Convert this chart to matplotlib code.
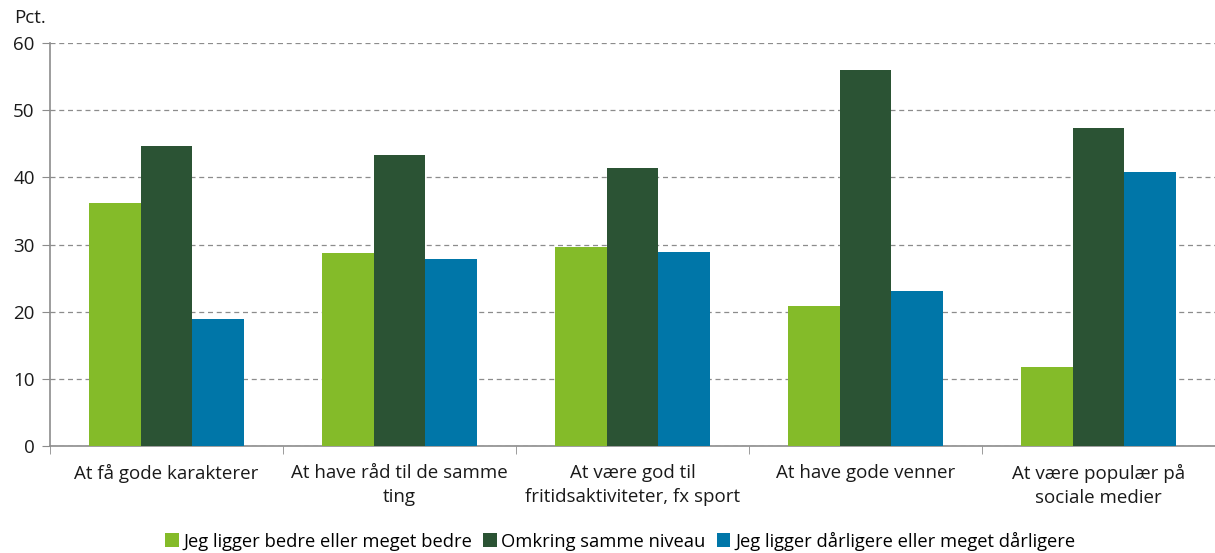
import numpy as np
import matplotlib.pyplot as plt
from matplotlib.ticker import FixedLocator

plt.rcParams['font.family'] = ['Open Sans', 'DejaVu Sans']

categories = ['At få gode karakterer', 'At have råd til de samme\nting',
              'At være god til\nfritidsaktiviteter, fx sport', 'At have gode venner',
              'At være populær på\nsociale medier']
series_names = ['Jeg ligger bedre eller meget bedre', 'Omkring samme niveau',
                'Jeg ligger dårligere eller meget dårligere']
bedre = [36.2, 28.7, 29.6, 20.8, 11.8]
samme = [44.7, 43.3, 41.4, 56.0, 47.3]
daarligere = [18.9, 27.8, 28.9, 23.1, 40.8]
colors = ['#84bb29', '#2b5334', '#0076a8']

fig = plt.figure(figsize=(12.15, 5.53), dpi=100)
ax = fig.add_axes([50 / 1215, 1 - 446 / 553, 1165 / 1215, 403 / 553])

x = np.arange(len(categories))
w = 0.223
for i, (vals, name) in enumerate(zip([bedre, samme, daarligere], series_names)):
    ax.bar(x + (i - 1) * w, vals, width=w, color=colors[i], label=name, zorder=3)

ax.set_xlim(-0.5, 4.5)
ax.set_ylim(0, 60)
ax.set_yticks(range(0, 61, 10))
ax.yaxis.grid(True, linestyle=(0, (4, 3)), color='#8c8c8c', linewidth=0.9, zorder=0)

ax.set_xticks(x)
ax.set_xticklabels(categories, fontsize=13.5, color='#1a1a1a', linespacing=1.45)
ax.tick_params(axis='x', which='major', length=0, pad=13)
ax.xaxis.set_minor_locator(FixedLocator(np.arange(-0.5, 4.6, 1)))
ax.tick_params(axis='x', which='minor', length=6, color='#8c8c8c', direction='out')
ax.tick_params(axis='y', length=6, color='#8c8c8c', labelsize=13.5, labelcolor='#1a1a1a', pad=5)

for s in ['top', 'right']:
    ax.spines[s].set_visible(False)
for s in ['left', 'bottom']:
    ax.spines[s].set_color('#8c8c8c')
    ax.spines[s].set_linewidth(1.2)

fig.text(14 / 1215, 1 - 18 / 553, 'Pct.', fontsize=13.5, va='center', ha='left', color='#1a1a1a')

fig.legend(loc='center', bbox_to_anchor=(620 / 1215, 1 - 541 / 553), ncol=3, frameon=False,
           fontsize=13.2, handlelength=0.75, handleheight=0.75, handletextpad=0.25, columnspacing=0.6,
           borderaxespad=0)

fig.savefig('out.png', dpi=100)
